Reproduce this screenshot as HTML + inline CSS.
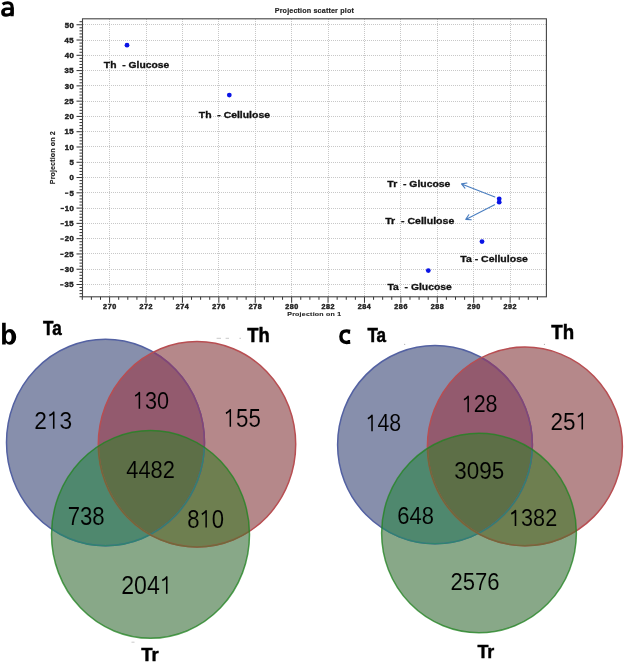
<!DOCTYPE html><html><head><meta charset="utf-8"><style>html,body{margin:0;padding:0;background:#fff;width:625px;height:663px;overflow:hidden}svg{display:block;will-change:transform}text{font-family:"Liberation Sans",sans-serif;white-space:pre}</style></head><body>
<svg width="625" height="663" viewBox="0 0 625 663">
<rect width="625" height="663" fill="#fff"/>
<path d="M109.50 19V296M146.50 19V296M182.50 19V296M218.50 19V296M255.50 19V296M291.50 19V296M328.50 19V296M364.50 19V296M400.50 19V296M437.50 19V296M473.50 19V296M510.50 19V296M83 24.50H546M83 40.50H546M83 55.50H546M83 70.50H546M83 85.50H546M83 101.50H546M83 116.50H546M83 131.50H546M83 146.50H546M83 162.50H546M83 177.50H546M83 192.50H546M83 208.50H546M83 223.50H546M83 238.50H546M83 253.50H546M83 269.50H546M83 284.50H546" stroke="#c8c8c8" stroke-width="1" stroke-dasharray="1 1" fill="none"/>
<path d="M82.29 296.8v3M91.39 296.8v3M100.50 296.8v3M109.60 296.8v6M118.70 296.8v3M127.80 296.8v3M136.91 296.8v3M146.01 296.8v6M155.11 296.8v3M164.21 296.8v3M173.32 296.8v3M182.42 296.8v6M191.52 296.8v3M200.62 296.8v3M209.73 296.8v3M218.83 296.8v6M227.93 296.8v3M237.03 296.8v3M246.14 296.8v3M255.24 296.8v6M264.34 296.8v3M273.44 296.8v3M282.55 296.8v3M291.65 296.8v6M300.75 296.8v3M309.86 296.8v3M318.96 296.8v3M328.06 296.8v6M337.16 296.8v3M346.26 296.8v3M355.37 296.8v3M364.47 296.8v6M373.57 296.8v3M382.67 296.8v3M391.78 296.8v3M400.88 296.8v6M409.98 296.8v3M419.08 296.8v3M428.19 296.8v3M437.29 296.8v6M446.39 296.8v3M455.50 296.8v3M464.60 296.8v3M473.70 296.8v6M482.80 296.8v3M491.90 296.8v3M501.01 296.8v3M510.11 296.8v6M519.21 296.8v3M528.31 296.8v3M537.42 296.8v3M82.5 296.73h-3M82.5 293.67h-3M82.5 290.61h-3M82.5 287.56h-3M82.5 284.50h-6M82.5 281.45h-3M82.5 278.39h-3M82.5 275.33h-3M82.5 272.28h-3M82.5 269.22h-6M82.5 266.17h-3M82.5 263.11h-3M82.5 260.05h-3M82.5 257.00h-3M82.5 253.94h-6M82.5 250.89h-3M82.5 247.83h-3M82.5 244.77h-3M82.5 241.72h-3M82.5 238.66h-6M82.5 235.61h-3M82.5 232.55h-3M82.5 229.50h-3M82.5 226.44h-3M82.5 223.38h-6M82.5 220.33h-3M82.5 217.27h-3M82.5 214.22h-3M82.5 211.16h-3M82.5 208.10h-6M82.5 205.05h-3M82.5 201.99h-3M82.5 198.94h-3M82.5 195.88h-3M82.5 192.82h-6M82.5 189.77h-3M82.5 186.71h-3M82.5 183.66h-3M82.5 180.60h-3M82.5 177.54h-6M82.5 174.49h-3M82.5 171.43h-3M82.5 168.38h-3M82.5 165.32h-3M82.5 162.27h-6M82.5 159.21h-3M82.5 156.15h-3M82.5 153.10h-3M82.5 150.04h-3M82.5 146.99h-6M82.5 143.93h-3M82.5 140.87h-3M82.5 137.82h-3M82.5 134.76h-3M82.5 131.71h-6M82.5 128.65h-3M82.5 125.59h-3M82.5 122.54h-3M82.5 119.48h-3M82.5 116.43h-6M82.5 113.37h-3M82.5 110.32h-3M82.5 107.26h-3M82.5 104.20h-3M82.5 101.15h-6M82.5 98.09h-3M82.5 95.04h-3M82.5 91.98h-3M82.5 88.92h-3M82.5 85.87h-6M82.5 82.81h-3M82.5 79.76h-3M82.5 76.70h-3M82.5 73.64h-3M82.5 70.59h-6M82.5 67.53h-3M82.5 64.48h-3M82.5 61.42h-3M82.5 58.36h-3M82.5 55.31h-6M82.5 52.25h-3M82.5 49.20h-3M82.5 46.14h-3M82.5 43.09h-3M82.5 40.03h-6M82.5 36.97h-3M82.5 33.92h-3M82.5 30.86h-3M82.5 27.81h-3M82.5 24.75h-6M82.5 21.69h-3" stroke="#333" stroke-width="1" fill="none"/>
<rect x="82.5" y="18.8" width="463.90" height="278.00" fill="none" stroke="#444" stroke-width="1.1"/>
<circle cx="127.0" cy="45.2" r="2.4" fill="#0a14e6"/>
<circle cx="229.3" cy="95.1" r="2.4" fill="#0a14e6"/>
<circle cx="499.2" cy="198.8" r="2.4" fill="#0a14e6"/>
<circle cx="499.2" cy="202.2" r="2.4" fill="#0a14e6"/>
<circle cx="482.0" cy="241.6" r="2.4" fill="#0a14e6"/>
<circle cx="428.3" cy="270.6" r="2.4" fill="#0a14e6"/>
<path d="M494.9 196.9L461.5 183.9M464.94 188.19L461.5 183.9L466.94 183.06" stroke="#4a7ec0" stroke-width="1.1" fill="none" stroke-linecap="round" stroke-linejoin="round"/>
<path d="M494.6 204.7L465.8 219.4M471.29 219.68L465.8 219.4L468.79 214.79" stroke="#4a7ec0" stroke-width="1.1" fill="none" stroke-linecap="round" stroke-linejoin="round"/>
<defs><clipPath id="vbb"><path d="M6.50 442.50A99.0 103.2 0 1 0 204.50 442.50A99.0 103.2 0 1 0 6.50 442.50Z"/></clipPath><clipPath id="vbr"><path d="M98.30 444.30A98.7 102.7 0 1 0 295.70 444.30A98.7 102.7 0 1 0 98.30 444.30Z"/></clipPath><clipPath id="vbg"><path d="M51.50 534.40A99.0 103.8 0 1 0 249.50 534.40A99.0 103.8 0 1 0 51.50 534.40Z"/></clipPath><clipPath id="vbbr" clip-path="url(#vbb)"><path d="M98.30 444.30A98.7 102.7 0 1 0 295.70 444.30A98.7 102.7 0 1 0 98.30 444.30Z"/></clipPath></defs>
<path d="M6.50 442.50A99.0 103.2 0 1 0 204.50 442.50A99.0 103.2 0 1 0 6.50 442.50Z" fill="#878fac"/>
<path d="M98.30 444.30A98.7 102.7 0 1 0 295.70 444.30A98.7 102.7 0 1 0 98.30 444.30Z" fill="#b5888a"/>
<path d="M51.50 534.40A99.0 103.8 0 1 0 249.50 534.40A99.0 103.8 0 1 0 51.50 534.40Z" fill="#88a888"/>
<path d="M98.30 444.30A98.7 102.7 0 1 0 295.70 444.30A98.7 102.7 0 1 0 98.30 444.30Z" fill="#935a6e" clip-path="url(#vbb)"/>
<path d="M51.50 534.40A99.0 103.8 0 1 0 249.50 534.40A99.0 103.8 0 1 0 51.50 534.40Z" fill="#4f886e" clip-path="url(#vbb)"/>
<path d="M51.50 534.40A99.0 103.8 0 1 0 249.50 534.40A99.0 103.8 0 1 0 51.50 534.40Z" fill="#6e7f50" clip-path="url(#vbr)"/>
<path d="M51.50 534.40A99.0 103.8 0 1 0 249.50 534.40A99.0 103.8 0 1 0 51.50 534.40Z" fill="#5d6f47" clip-path="url(#vbbr)"/>
<path d="M6.50 442.50A99.0 103.2 0 1 0 204.50 442.50A99.0 103.2 0 1 0 6.50 442.50Z" fill="none" stroke="#5361a2" stroke-width="1.5"/>
<path d="M6.50 442.50A99.0 103.2 0 1 0 204.50 442.50A99.0 103.2 0 1 0 6.50 442.50Z" fill="none" stroke="#874473" stroke-width="1.5" clip-path="url(#vbr)"/>
<path d="M6.50 442.50A99.0 103.2 0 1 0 204.50 442.50A99.0 103.2 0 1 0 6.50 442.50Z" fill="none" stroke="#2f8470" stroke-width="1.5" clip-path="url(#vbg)"/>
<path d="M98.30 444.30A98.7 102.7 0 1 0 295.70 444.30A98.7 102.7 0 1 0 98.30 444.30Z" fill="none" stroke="#b84e52" stroke-width="1.5"/>
<path d="M98.30 444.30A98.7 102.7 0 1 0 295.70 444.30A98.7 102.7 0 1 0 98.30 444.30Z" fill="none" stroke="#72693a" stroke-width="1.5" clip-path="url(#vbg)"/>
<path d="M51.50 534.40A99.0 103.8 0 1 0 249.50 534.40A99.0 103.8 0 1 0 51.50 534.40Z" fill="none" stroke="#228422" stroke-opacity="0.77" stroke-width="1.5"/>
<defs><clipPath id="vcb"><path d="M337.60 444.70A97.4 99.1 0 1 0 532.40 444.70A97.4 99.1 0 1 0 337.60 444.70Z"/></clipPath><clipPath id="vcr"><path d="M427.40 446.40A97.5 99.3 0 1 0 622.40 446.40A97.5 99.3 0 1 0 427.40 446.40Z"/></clipPath><clipPath id="vcg"><path d="M381.60 533.05A97.4 99.75 0 1 0 576.40 533.05A97.4 99.75 0 1 0 381.60 533.05Z"/></clipPath><clipPath id="vcbr" clip-path="url(#vcb)"><path d="M427.40 446.40A97.5 99.3 0 1 0 622.40 446.40A97.5 99.3 0 1 0 427.40 446.40Z"/></clipPath></defs>
<path d="M337.60 444.70A97.4 99.1 0 1 0 532.40 444.70A97.4 99.1 0 1 0 337.60 444.70Z" fill="#878fac"/>
<path d="M427.40 446.40A97.5 99.3 0 1 0 622.40 446.40A97.5 99.3 0 1 0 427.40 446.40Z" fill="#b5888a"/>
<path d="M381.60 533.05A97.4 99.75 0 1 0 576.40 533.05A97.4 99.75 0 1 0 381.60 533.05Z" fill="#88a888"/>
<path d="M427.40 446.40A97.5 99.3 0 1 0 622.40 446.40A97.5 99.3 0 1 0 427.40 446.40Z" fill="#935a6e" clip-path="url(#vcb)"/>
<path d="M381.60 533.05A97.4 99.75 0 1 0 576.40 533.05A97.4 99.75 0 1 0 381.60 533.05Z" fill="#4f886e" clip-path="url(#vcb)"/>
<path d="M381.60 533.05A97.4 99.75 0 1 0 576.40 533.05A97.4 99.75 0 1 0 381.60 533.05Z" fill="#6e7f50" clip-path="url(#vcr)"/>
<path d="M381.60 533.05A97.4 99.75 0 1 0 576.40 533.05A97.4 99.75 0 1 0 381.60 533.05Z" fill="#5d6f47" clip-path="url(#vcbr)"/>
<path d="M337.60 444.70A97.4 99.1 0 1 0 532.40 444.70A97.4 99.1 0 1 0 337.60 444.70Z" fill="none" stroke="#5361a2" stroke-width="1.5"/>
<path d="M337.60 444.70A97.4 99.1 0 1 0 532.40 444.70A97.4 99.1 0 1 0 337.60 444.70Z" fill="none" stroke="#874473" stroke-width="1.5" clip-path="url(#vcr)"/>
<path d="M337.60 444.70A97.4 99.1 0 1 0 532.40 444.70A97.4 99.1 0 1 0 337.60 444.70Z" fill="none" stroke="#2f8470" stroke-width="1.5" clip-path="url(#vcg)"/>
<path d="M427.40 446.40A97.5 99.3 0 1 0 622.40 446.40A97.5 99.3 0 1 0 427.40 446.40Z" fill="none" stroke="#b84e52" stroke-width="1.5"/>
<path d="M427.40 446.40A97.5 99.3 0 1 0 622.40 446.40A97.5 99.3 0 1 0 427.40 446.40Z" fill="none" stroke="#72693a" stroke-width="1.5" clip-path="url(#vcg)"/>
<path d="M381.60 533.05A97.4 99.75 0 1 0 576.40 533.05A97.4 99.75 0 1 0 381.60 533.05Z" fill="none" stroke="#228422" stroke-opacity="0.77" stroke-width="1.5"/>
<path d="M216.6 338.3H221M225.6 338.3H229M239.4 338.3H241" stroke="#bbb" stroke-width="0.8"/>
<circle cx="404.7" cy="344.3" r="0.6" fill="#aaa"/><path d="M131.5 642.2H134.5" stroke="#bbb" stroke-width="0.8"/><circle cx="544.4" cy="344.3" r="0.6" fill="#aaa"/>
<g transform="translate(35.40 428.66) scale(0.9201 1)"><text x="-1.24" y="0" font-size="24.72" fill="#000" stroke="#878fac" stroke-width="0.12">2</text><path d="M19.93 0V-16.51Q18.36 -14.45 15.10 -13.02" fill="none" stroke="#000" stroke-width="1.7" stroke-linejoin="round"/><text x="26.25" y="0" font-size="24.72" fill="#000" stroke="#878fac" stroke-width="0.12">3</text></g>
<g transform="translate(135.00 408.86) scale(0.8870 1)"><path d="M4.95 0V-16.31Q3.40 -14.28 0.18 -12.87" fill="none" stroke="#000" stroke-width="1.7" stroke-linejoin="round"/><text x="11.20" y="0" font-size="24.43" fill="#000" stroke="#935a6e" stroke-width="0.12">3</text><text x="24.79" y="0" font-size="24.43" fill="#000" stroke="#935a6e" stroke-width="0.12">0</text></g>
<g transform="translate(225.80 426.75) scale(0.8793 1)"><path d="M5.14 0V-16.95Q3.53 -14.85 0.19 -13.36" fill="none" stroke="#000" stroke-width="1.7" stroke-linejoin="round"/><text x="11.63" y="0" font-size="25.37" fill="#000" stroke="#b5888a" stroke-width="0.12">5</text><text x="25.74" y="0" font-size="25.37" fill="#000" stroke="#b5888a" stroke-width="0.12">5</text></g>
<g transform="translate(126.80 477.76) scale(0.8889 1)"><text x="-0.56" y="0" font-size="24.58" fill="#000" stroke="#5d6f47" stroke-width="0.12">4</text><text x="13.10" y="0" font-size="24.58" fill="#000" stroke="#5d6f47" stroke-width="0.12">4</text><text x="26.77" y="0" font-size="24.58" fill="#000" stroke="#5d6f47" stroke-width="0.12">8</text><text x="40.44" y="0" font-size="24.58" fill="#000" stroke="#5d6f47" stroke-width="0.12">2</text></g>
<g transform="translate(68.80 524.56) scale(0.8921 1)"><text x="-1.27" y="0" font-size="24.86" fill="#000" stroke="#4f886e" stroke-width="0.12">7</text><text x="12.55" y="0" font-size="24.86" fill="#000" stroke="#4f886e" stroke-width="0.12">3</text><text x="26.38" y="0" font-size="24.86" fill="#000" stroke="#4f886e" stroke-width="0.12">8</text></g>
<g transform="translate(188.20 527.56) scale(0.8828 1)"><text x="-1.09" y="0" font-size="25.00" fill="#000" stroke="#6e7f50" stroke-width="0.12">8</text><path d="M20.32 0V-16.70Q18.74 -14.62 15.44 -13.17" fill="none" stroke="#000" stroke-width="1.7" stroke-linejoin="round"/><text x="26.72" y="0" font-size="25.00" fill="#000" stroke="#6e7f50" stroke-width="0.12">0</text></g>
<g transform="translate(122.30 593.85) scale(0.9162 1)"><text x="-1.27" y="0" font-size="25.28" fill="#000" stroke="#88a888" stroke-width="0.12">2</text><text x="12.79" y="0" font-size="25.28" fill="#000" stroke="#88a888" stroke-width="0.12">0</text><text x="26.85" y="0" font-size="25.28" fill="#000" stroke="#88a888" stroke-width="0.12">4</text><path d="M48.50 0V-16.89Q46.90 -14.80 43.56 -13.32" fill="none" stroke="#000" stroke-width="1.7" stroke-linejoin="round"/></g>
<g transform="translate(367.70 431.17) scale(0.8995 1)"><path d="M4.81 0V-15.82Q3.30 -13.86 0.17 -12.50" fill="none" stroke="#000" stroke-width="1.7" stroke-linejoin="round"/><text x="10.88" y="0" font-size="23.73" fill="#000" stroke="#878fac" stroke-width="0.12">4</text><text x="24.08" y="0" font-size="23.73" fill="#000" stroke="#878fac" stroke-width="0.12">8</text></g>
<g transform="translate(463.80 412.17) scale(0.9050 1)"><path d="M4.81 0V-15.82Q3.30 -13.86 0.17 -12.50" fill="none" stroke="#000" stroke-width="1.7" stroke-linejoin="round"/><text x="10.88" y="0" font-size="23.73" fill="#000" stroke="#935a6e" stroke-width="0.12">2</text><text x="24.08" y="0" font-size="23.73" fill="#000" stroke="#935a6e" stroke-width="0.12">8</text></g>
<g transform="translate(551.60 429.56) scale(0.9266 1)"><text x="-1.22" y="0" font-size="24.29" fill="#000" stroke="#b5888a" stroke-width="0.12">2</text><text x="12.29" y="0" font-size="24.29" fill="#000" stroke="#b5888a" stroke-width="0.12">5</text><path d="M33.10 0V-16.21Q31.55 -14.20 28.35 -12.80" fill="none" stroke="#000" stroke-width="1.7" stroke-linejoin="round"/></g>
<g transform="translate(455.10 478.66) scale(0.9287 1)"><text x="-0.92" y="0" font-size="24.15" fill="#000" stroke="#5d6f47" stroke-width="0.12">3</text><text x="12.51" y="0" font-size="24.15" fill="#000" stroke="#5d6f47" stroke-width="0.12">0</text><text x="25.94" y="0" font-size="24.15" fill="#000" stroke="#5d6f47" stroke-width="0.12">9</text><text x="39.38" y="0" font-size="24.15" fill="#000" stroke="#5d6f47" stroke-width="0.12">5</text></g>
<g transform="translate(398.40 523.56) scale(0.9100 1)"><text x="-1.23" y="0" font-size="24.15" fill="#000" stroke="#4f886e" stroke-width="0.12">6</text><text x="12.21" y="0" font-size="24.15" fill="#000" stroke="#4f886e" stroke-width="0.12">4</text><text x="25.64" y="0" font-size="24.15" fill="#000" stroke="#4f886e" stroke-width="0.12">8</text></g>
<g transform="translate(511.10 526.07) scale(0.9355 1)"><path d="M4.69 0V-15.44Q3.22 -13.51 0.17 -12.20" fill="none" stroke="#000" stroke-width="1.7" stroke-linejoin="round"/><text x="10.62" y="0" font-size="23.16" fill="#000" stroke="#6e7f50" stroke-width="0.12">3</text><text x="23.50" y="0" font-size="23.16" fill="#000" stroke="#6e7f50" stroke-width="0.12">8</text><text x="36.39" y="0" font-size="23.16" fill="#000" stroke="#6e7f50" stroke-width="0.12">2</text></g>
<g transform="translate(451.50 589.97) scale(0.9298 1)"><text x="-1.19" y="0" font-size="23.73" fill="#000" stroke="#88a888" stroke-width="0.12">2</text><text x="12.00" y="0" font-size="23.73" fill="#000" stroke="#88a888" stroke-width="0.12">5</text><text x="25.20" y="0" font-size="23.73" fill="#000" stroke="#88a888" stroke-width="0.12">7</text><text x="38.40" y="0" font-size="23.73" fill="#000" stroke="#88a888" stroke-width="0.12">6</text></g>
<path d="M2.6 4.2C3.9 3.3 5.8 2.75 7.8 2.75C10.9 2.75 12.1 4.3 12.1 7.2V16.3" fill="none" stroke="#000" stroke-width="3.2"/>
<path d="M13.7 7.5H7.6C3.3 7.5 1.15 9.4 1.15 12.4C1.15 15.3 3.0 16.7 6.0 16.7C8.6 16.7 10.6 15.9 13.7 14.3Z M7.5 9.9C5.7 9.9 4.8 10.6 4.8 11.9C4.8 13.0 5.6 13.6 6.8 13.6C8.2 13.6 9.3 13.1 10.5 12.2V9.9Z" fill="#000" fill-rule="evenodd"/>
<path d="M2.1 322.7H5.7V344.6H2.1Z M10.0 329.1A6.2 7.8 0 0 1 16.2 336.9A6.2 7.8 0 0 1 10.0 344.7A6.2 7.8 0 0 1 3.8 336.9A6.2 7.8 0 0 1 10.0 329.1Z M8.75 332.2A2.85 4.85 0 0 0 5.9 337.05A2.85 4.85 0 0 0 8.75 341.9A2.85 4.85 0 0 0 11.6 337.05A2.85 4.85 0 0 0 8.75 332.2Z" fill="#000" fill-rule="nonzero"/>
<path d="M350.0 331.3C349.0 331.0 347.9 330.85 346.6 330.85C342.8 330.85 340.9 333.2 340.9 336.6C340.9 340.2 342.9 342.45 346.6 342.45C347.9 342.45 349.0 342.2 350.0 341.9" fill="none" stroke="#000" stroke-width="3.4"/><path d="M347.8 330.2H350.1V333.7H347.8ZM347.8 340.0H350.1V343.7H347.8Z" fill="#000"/>
<text transform="translate(103.87 68.33) scale(1.0908 1)" x="0.00" font-size="9.47" font-weight="bold" fill="#111" stroke="#111" stroke-width="0.32">Th  - Glucose</text>
<text transform="translate(198.77 117.93) scale(1.1161 1)" x="0.00" font-size="9.34" font-weight="bold" fill="#111" stroke="#111" stroke-width="0.31">Th  - Cellulose</text>
<text transform="translate(387.37 186.93) scale(1.1142 1)" x="0.00" font-size="9.34" font-weight="bold" fill="#111" stroke="#111" stroke-width="0.31">Tr  - Glucose</text>
<text transform="translate(385.17 224.43) scale(1.1290 1)" x="0.00" font-size="9.34" font-weight="bold" fill="#111" stroke="#111" stroke-width="0.30">Tr  - Cellulose</text>
<text transform="translate(460.27 262.23) scale(1.1268 1)" x="0.00" font-size="9.34" font-weight="bold" fill="#111" stroke="#111" stroke-width="0.30">Ta - Cellulose</text>
<text transform="translate(387.46 289.54) scale(1.1952 1)" x="0.00" font-size="8.69" font-weight="bold" fill="#111" stroke="#111" stroke-width="0.27">Ta  - Glucose</text>
<text transform="translate(275.17 12.73) scale(1.0668 1)" x="-0.42" letter-spacing="0.135" font-size="6.76" font-weight="bold" fill="#222" stroke="#222" stroke-width="0.14">Projection scatter plot</text>
<text transform="translate(287.66 315.64) scale(1.1195 1)" x="-0.39" letter-spacing="0.226" font-size="6.23" font-weight="bold" fill="#222" stroke="#222" stroke-width="0.13">Projection on 1</text>
<text transform="translate(43.12 334.98) scale(0.8786 1)" x="0.00" font-size="19.43" font-weight="bold" fill="#000" stroke="#000" stroke-width="0.50">Ta</text>
<text transform="translate(247.33 341.67) scale(0.9207 1)" x="0.00" font-size="19.95" font-weight="bold" fill="#000" stroke="#000" stroke-width="0.49">Th</text>
<text transform="translate(141.21 660.99) scale(0.9832 1)" x="0.00" font-size="18.87" font-weight="bold" fill="#000" stroke="#000" stroke-width="0.44">Tr</text>
<text transform="translate(367.42 341.68) scale(0.8786 1)" x="0.00" font-size="19.43" font-weight="bold" fill="#000" stroke="#000" stroke-width="0.50">Ta</text>
<text transform="translate(551.33 338.67) scale(0.9315 1)" x="0.00" font-size="20.08" font-weight="bold" fill="#000" stroke="#000" stroke-width="0.49">Th</text>
<text transform="translate(477.40 658.20) scale(0.9936 1)" x="0.00" font-size="18.05" font-weight="bold" fill="#000" stroke="#000" stroke-width="0.41">Tr</text>
<text transform="translate(73.47 27.52) scale(1.12 1)" x="-7.89" letter-spacing="0.5" font-size="6.89" font-weight="bold" fill="#222" stroke="#222" stroke-width="0.45">50</text>
<text transform="translate(73.47 42.80) scale(1.12 1)" x="-8.00" letter-spacing="0.5" font-size="6.89" font-weight="bold" fill="#222" stroke="#222" stroke-width="0.45">45</text>
<text transform="translate(73.47 58.08) scale(1.12 1)" x="-7.89" letter-spacing="0.5" font-size="6.89" font-weight="bold" fill="#222" stroke="#222" stroke-width="0.45">40</text>
<text transform="translate(73.47 73.36) scale(1.12 1)" x="-8.00" letter-spacing="0.5" font-size="6.89" font-weight="bold" fill="#222" stroke="#222" stroke-width="0.45">35</text>
<text transform="translate(73.47 88.64) scale(1.12 1)" x="-7.89" letter-spacing="0.5" font-size="6.89" font-weight="bold" fill="#222" stroke="#222" stroke-width="0.45">30</text>
<text transform="translate(73.47 103.92) scale(1.12 1)" x="-8.00" letter-spacing="0.5" font-size="6.89" font-weight="bold" fill="#222" stroke="#222" stroke-width="0.45">25</text>
<text transform="translate(73.47 119.20) scale(1.12 1)" x="-7.89" letter-spacing="0.5" font-size="6.89" font-weight="bold" fill="#222" stroke="#222" stroke-width="0.45">20</text>
<text transform="translate(73.47 134.48) scale(1.12 1)" x="-8.00" letter-spacing="0.5" font-size="6.89" font-weight="bold" fill="#222" stroke="#222" stroke-width="0.45">15</text>
<text transform="translate(73.47 149.76) scale(1.12 1)" x="-7.89" letter-spacing="0.5" font-size="6.89" font-weight="bold" fill="#222" stroke="#222" stroke-width="0.45">10</text>
<text transform="translate(73.47 165.04) scale(1.12 1)" x="-3.66" letter-spacing="0.5" font-size="6.89" font-weight="bold" fill="#222" stroke="#222" stroke-width="0.45">5</text>
<text transform="translate(73.47 180.32) scale(1.12 1)" x="-3.56" letter-spacing="0.5" font-size="6.89" font-weight="bold" fill="#222" stroke="#222" stroke-width="0.45">0</text>
<text transform="translate(73.47 195.60) scale(1.12 1)" x="-3.66" letter-spacing="0.5" font-size="6.89" font-weight="bold" fill="#222" stroke="#222" stroke-width="0.45">5</text>
<rect x="64.97" y="192.52" width="3.4" height="1.3" fill="#222"/>
<text transform="translate(73.47 210.88) scale(1.12 1)" x="-7.89" letter-spacing="0.5" font-size="6.89" font-weight="bold" fill="#222" stroke="#222" stroke-width="0.45">10</text>
<rect x="60.59" y="207.80" width="3.4" height="1.3" fill="#222"/>
<text transform="translate(73.47 226.16) scale(1.12 1)" x="-8.00" letter-spacing="0.5" font-size="6.89" font-weight="bold" fill="#222" stroke="#222" stroke-width="0.45">15</text>
<rect x="60.47" y="223.08" width="3.4" height="1.3" fill="#222"/>
<text transform="translate(73.47 241.44) scale(1.12 1)" x="-7.89" letter-spacing="0.5" font-size="6.89" font-weight="bold" fill="#222" stroke="#222" stroke-width="0.45">20</text>
<rect x="60.35" y="238.36" width="3.4" height="1.3" fill="#222"/>
<text transform="translate(73.47 256.72) scale(1.12 1)" x="-8.00" letter-spacing="0.5" font-size="6.89" font-weight="bold" fill="#222" stroke="#222" stroke-width="0.45">25</text>
<rect x="60.23" y="253.64" width="3.4" height="1.3" fill="#222"/>
<text transform="translate(73.47 272.00) scale(1.12 1)" x="-7.89" letter-spacing="0.5" font-size="6.89" font-weight="bold" fill="#222" stroke="#222" stroke-width="0.45">30</text>
<rect x="60.23" y="268.92" width="3.4" height="1.3" fill="#222"/>
<text transform="translate(73.47 287.28) scale(1.12 1)" x="-8.00" letter-spacing="0.5" font-size="6.89" font-weight="bold" fill="#222" stroke="#222" stroke-width="0.45">35</text>
<rect x="60.11" y="284.20" width="3.4" height="1.3" fill="#222"/>
<text transform="translate(109.60 308.89) scale(1.12 1)" x="-5.79" letter-spacing="0.5" font-size="6.37" font-weight="bold" fill="#222" stroke="#222" stroke-width="0.42">270</text>
<text transform="translate(146.01 308.89) scale(1.12 1)" x="-5.84" letter-spacing="0.5" font-size="6.37" font-weight="bold" fill="#222" stroke="#222" stroke-width="0.42">272</text>
<text transform="translate(182.42 308.89) scale(1.12 1)" x="-5.94" letter-spacing="0.5" font-size="6.37" font-weight="bold" fill="#222" stroke="#222" stroke-width="0.42">274</text>
<text transform="translate(218.83 308.89) scale(1.12 1)" x="-5.84" letter-spacing="0.5" font-size="6.37" font-weight="bold" fill="#222" stroke="#222" stroke-width="0.42">276</text>
<text transform="translate(255.24 308.89) scale(1.12 1)" x="-5.84" letter-spacing="0.5" font-size="6.37" font-weight="bold" fill="#222" stroke="#222" stroke-width="0.42">278</text>
<text transform="translate(291.65 308.89) scale(1.12 1)" x="-5.79" letter-spacing="0.5" font-size="6.37" font-weight="bold" fill="#222" stroke="#222" stroke-width="0.42">280</text>
<text transform="translate(328.06 308.89) scale(1.12 1)" x="-5.84" letter-spacing="0.5" font-size="6.37" font-weight="bold" fill="#222" stroke="#222" stroke-width="0.42">282</text>
<text transform="translate(364.47 308.89) scale(1.12 1)" x="-5.94" letter-spacing="0.5" font-size="6.37" font-weight="bold" fill="#222" stroke="#222" stroke-width="0.42">284</text>
<text transform="translate(400.88 308.89) scale(1.12 1)" x="-5.84" letter-spacing="0.5" font-size="6.37" font-weight="bold" fill="#222" stroke="#222" stroke-width="0.42">286</text>
<text transform="translate(437.29 308.89) scale(1.12 1)" x="-5.84" letter-spacing="0.5" font-size="6.37" font-weight="bold" fill="#222" stroke="#222" stroke-width="0.42">288</text>
<text transform="translate(473.70 308.89) scale(1.12 1)" x="-5.79" letter-spacing="0.5" font-size="6.37" font-weight="bold" fill="#222" stroke="#222" stroke-width="0.42">290</text>
<text transform="translate(510.11 308.89) scale(1.12 1)" x="-5.84" letter-spacing="0.5" font-size="6.37" font-weight="bold" fill="#222" stroke="#222" stroke-width="0.42">292</text>
<text transform="translate(54.9 183.8) rotate(-90) scale(1.0344 1)" x="-0.43" letter-spacing="0.079" font-size="6.94" font-weight="bold" fill="#222" stroke="#222" stroke-width="0.14">Projection on 2</text>
</svg></body></html>
